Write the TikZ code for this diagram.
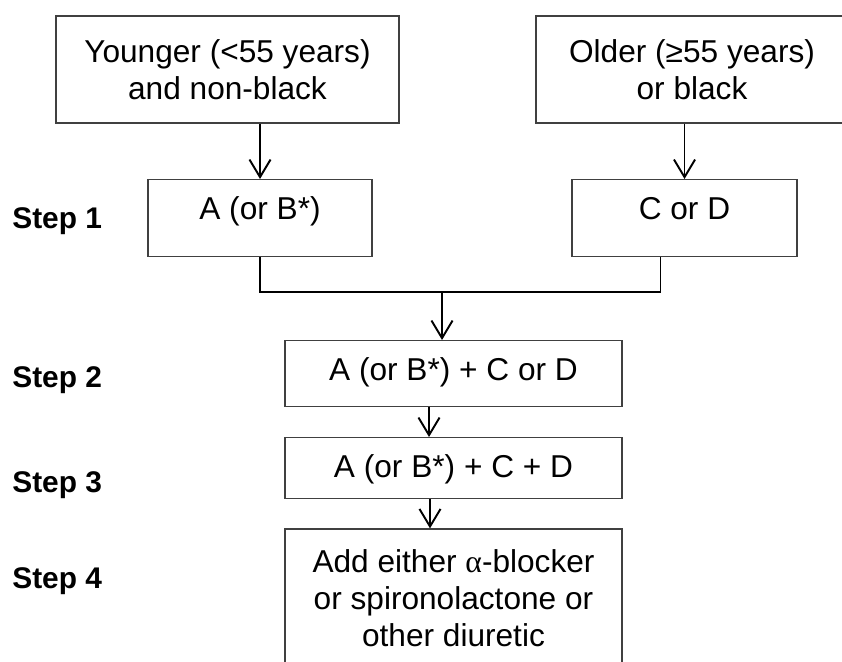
\documentclass[tikz,border=0pt]{standalone}
\usepackage{fontspec}
\setmainfont{Liberation Sans}
\newfontfamily\greekfont{Liberation Serif}
\usetikzlibrary{arrows.meta}
\tikzset{box/.style={draw=black!75,line width=0.7pt,inner sep=0pt,align=center},
         conn/.style={line width=1.1pt,-{Straight Barb[length=10pt,width=12pt]}},
         steplabel/.style={anchor=base west,inner sep=0pt,font=\fontsize{17}{20}\selectfont\bfseries}}

\begin{document}
\begin{tikzpicture}[x=0.02cm,y=-0.02cm]
            \fontsize{18}{21}\selectfont
             \path[use as bounding box,clip] (0,0) rectangle (842,662);
             % patient groups
             \node[box,minimum width=6.86cm,minimum height=2.14cm] (young) at (227.5,69.5) {Younger (<55 years)\\and non-black};
             \node[box,minimum width=6.24cm,minimum height=2.14cm] (old)   at (692,69.5)   {Older (≥55 years)\\or black};
             % steps
             \node[box,anchor=north,minimum width=4.48cm,text height=0.8cm,text depth=0.74cm] (a1) at (260,179)   {A (or B*)};
             \node[box,anchor=north,minimum width=4.5cm, text height=0.8cm,text depth=0.74cm] (c1) at (684.5,179) {C or D};
             \node[box,anchor=north,minimum width=6.74cm,text height=0.8cm,text depth=0.52cm] (s2) at (453.5,340) {A (or B*) + C or D};
             \node[box,anchor=north,minimum width=6.74cm,text height=0.8cm,text depth=0.42cm] (s3) at (453.5,437) {A (or B*) + C + D};
             \node[box,minimum width=6.74cm,minimum height=2.76cm] (s4) at (453.5,598) {Add either {\greekfont α}-blocker\\or spironolactone or\\other diuretic};
             \node[steplabel] (st1) at (12,229) {Step 1};
             \node[steplabel] (st2) at (12,387) {Step 2};
             \node[steplabel] (st3) at (12,492) {Step 3};
             \node[steplabel] (st4) at (12,588) {Step 4};
             % arrows
             \coordinate (merge) at (442,292);
             \draw[conn] (young.south -| a1.north) -- (a1.north);
             \draw[conn] (old.south -| c1.north) -- (c1.north);
             \draw[line width=1.1pt] (a1.south) |- (merge) -| ([xshift=-0.48cm]c1.south);
             \draw[conn] (merge) -- (merge |- s2.north);
             \draw[conn] (s2.south -| 429,0) -- (s3.north -| 429,0);
             \draw[conn] (s3.south -| 430,0) -- (s4.north -| 430,0);
        \end{tikzpicture}
\end{document}
